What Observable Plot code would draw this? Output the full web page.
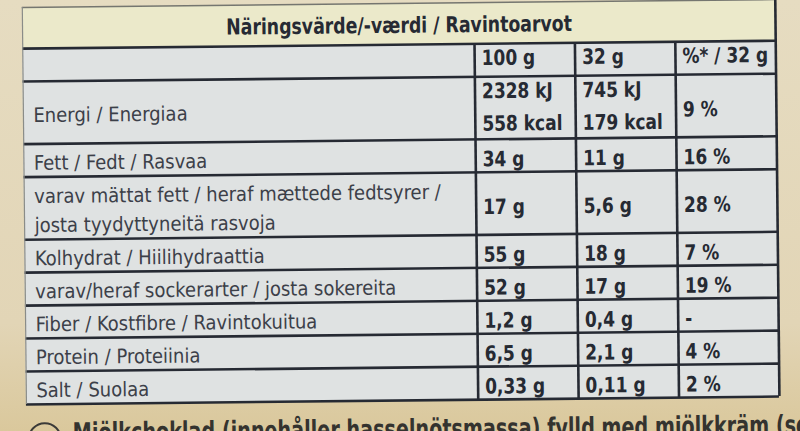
<!DOCTYPE html>
<html><head><meta charset="utf-8">
<script src="https://cdn.jsdelivr.net/npm/d3@7"></script>
<script src="https://cdn.jsdelivr.net/npm/@observablehq/plot@0.6"></script>
<style>
html,body{margin:0;padding:0;overflow:hidden;width:800px;height:431px;
  background:linear-gradient(180deg,#e6dcc1 0%,#e2d5b6 75%,#dac89c 100%)}
#chart svg{transform:rotate(-0.6deg);transform-origin:400px 215px;display:block;overflow:visible}
</style></head><body><div id="chart"></div>
<script>
const title = "Näringsvärde/-værdi / Ravintoarvot";
const columnHeaders = ["100 g", "32 g", "%* / 32 g"];
const nutrients = [
  "Energi / Energiaa",
  "Fett / Fedt / Rasvaa",
  "varav mättat fett / heraf mættede fedtsyrer /\njosta tyydyttyneitä rasvoja",
  "Kolhydrat / Hiilihydraattia",
  "varav/heraf sockerarter / josta sokereita",
  "Fiber / Kostfibre / Ravintokuitua",
  "Protein / Proteiinia",
  "Salt / Suolaa"
];
const per100g = ["2328 kJ\n558 kcal", "34 g", "17 g", "55 g", "52 g", "1,2 g", "6,5 g", "0,33 g"];
const per32g = ["745 kJ\n179 kcal", "11 g", "5,6 g", "18 g", "17 g", "0,4 g", "2,1 g", "0,11 g"];
const percentRI = ["9 %", "16 %", "28 %", "7 %", "19 %", "-", "4 %", "2 %"];
const languageMark = "SE";
const footnote = "Mjölkchoklad (innehåller hasselnötsmassa) fylld med mjölkkräm (sen";

// layout in table units (derived from content)
const nLines = s => s.split("\n").length;
const titleH = 1.25, headerH = 1;
const colW = [4.5, 1, 1, 1];
const colX = [0]; colW.forEach((w, i) => colX.push(colX[i] + w));
const totalW = colX[colX.length - 1];

const rows = nutrients.map((label, i) => ({
  label, v100: per100g[i], v32: per32g[i], pct: percentRI[i],
  h: Math.max(nLines(label), nLines(per100g[i]), nLines(per32g[i])) > 1 ? 1.9 : 1
}));
let acc = titleH + headerH;
rows.forEach(r => { r.y1 = acc; acc += r.h; r.y2 = acc; r.ym = (r.y1 + r.y2) / 2; });
const total = acc;

const cells = [{x1: 0, x2: totalW, y1: 0, y2: titleH, fill: "#ebe9ca"}];
[{y1: titleH, y2: titleH + headerH}, ...rows].forEach(r => {
  for (let c = 0; c < 4; c++) cells.push({x1: colX[c], x2: colX[c + 1], y1: r.y1, y2: r.y2, fill: "#dfe2e2"});
});

const hLines = [titleH, titleH + headerH, ...rows.map(r => r.y2)];
const headerCells = columnHeaders.map((t, i) => ({t, x: colX[i + 1], y: titleH + headerH / 2}));
const valueCells = [];
rows.forEach(r => {
  valueCells.push({t: r.v100, x: colX[1], y: r.ym});
  valueCells.push({t: r.v32, x: colX[2], y: r.ym});
  valueCells.push({t: r.pct, x: colX[3], y: r.ym});
});
const singleVals = valueCells.filter(d => nLines(d.t) === 1);
const multiVals = valueCells.filter(d => nLines(d.t) > 1);

const ink = "#262a33";
const font = "'Liberation Sans Narrow', 'DejaVu Sans Condensed', sans-serif";
const valueStyle = {x: "x", y: "y", text: "t", dx: 7, textAnchor: "start", fontSize: 21, fontWeight: "bold", lineHeight: 1.55, fill: ink, ariaDescription: "sx-0.9"};

const chart = Plot.plot({
  width: 800, height: 431,
  marginTop: 3, marginBottom: 31, marginLeft: 24, marginRight: 23,
  x: {domain: [0, totalW], axis: null},
  y: {domain: [0, total], reverse: true, axis: null},
  style: {fontFamily: font, background: "transparent", overflow: "visible"},
  marks: [
    Plot.rect(cells, {x1: "x1", x2: "x2", y1: "y1", y2: "y2", fill: "fill"}),
    Plot.ruleY(hLines, {x1: 0, x2: totalW, stroke: ink, strokeWidth: 2.6}),
    Plot.ruleY([0], {x1: 0, x2: totalW, stroke: ink, strokeWidth: 1.5, strokeOpacity: 0.6}),
    Plot.ruleX(colX.slice(1, 4), {y1: titleH, y2: total, stroke: ink, strokeWidth: 2.6}),
    Plot.ruleX([totalW], {y1: 0, y2: total, stroke: ink, strokeWidth: 2.6}),
    Plot.ruleX([0], {y1: 0, y2: total, stroke: "#8a8c88", strokeWidth: 1.2}),
    Plot.text([title], {ariaDescription: "sx-0.875", x: totalW / 2, y: titleH / 2 + 0.05, fontSize: 22, fontWeight: "bold", fill: ink, text: d => d}),
    Plot.text(headerCells, {ariaDescription: "sx-0.9", x: "x", y: "y", text: "t", dx: 7, dy: -2, textAnchor: "start", fontSize: 21, fontWeight: "bold", fill: ink}),
    Plot.text(rows, {x: 0, y: "ym", text: "label", dx: 10, textAnchor: "start", fontSize: 20, lineHeight: 1.45, fill: "#3c4049"}),
    Plot.text(singleVals, valueStyle),
    Plot.text(multiVals, {...valueStyle, dy: -4}),
    Plot.dot([0], {x: 0, y: total, dx: 18, dy: 35, r: 16, stroke: "#3a3a38", strokeWidth: 2, fill: "none"}),
    Plot.text([languageMark], {x: 0, y: total, dx: 18, dy: 36, text: d => d, fontSize: 15, fontWeight: "bold", fill: "#3a3a38"}),
    Plot.text([footnote], {ariaDescription: "sx-0.79", x: 0, y: total, dx: 46, dy: 38, text: d => d, textAnchor: "start", lineAnchor: "bottom", fontSize: 27, fontWeight: "bold", fill: "#34332f"})
  ]
});
// condense bold glyphs horizontally to mimic the label's narrow typeface
d3.select(chart).selectAll("g[aria-description^='sx-']").each(function () {
  const sx = +this.getAttribute("aria-description").slice(3);
  d3.select(this).selectAll("text").each(function () {
    let t = this.getAttribute("transform");
    if (!t) {
      const x = +this.getAttribute("x") || 0, y = +this.getAttribute("y") || 0;
      this.removeAttribute("x"); this.removeAttribute("y");
      t = `translate(${x},${y})`;
    }
    this.setAttribute("transform", `${t} scale(${sx},1)`);
  });
});
document.getElementById("chart").append(chart);
</script></body></html>
